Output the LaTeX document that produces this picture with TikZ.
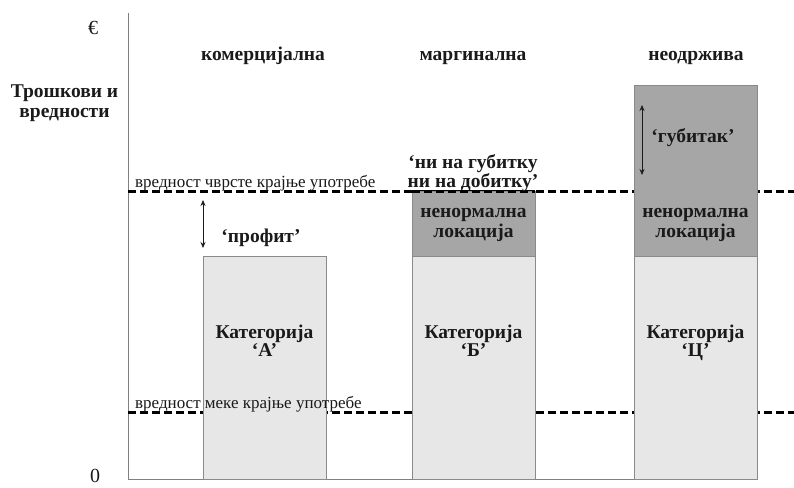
\documentclass[tikz,border=0pt]{standalone}
\usepackage{fontspec}
\setmainfont{Liberation Serif}
\usetikzlibrary{arrows.meta}
\definecolor{lightbox}{HTML}{E7E7E7}
\definecolor{darkbox}{HTML}{A6A6A6}
\definecolor{edgegray}{HTML}{8A8A8A}
\definecolor{inkcol}{HTML}{1A1A1A}
\begin{document}
\begin{tikzpicture}[x=1pt,y=-1pt,
  lbl/.style={font=\fontsize{19.5}{21}\selectfont\bfseries, text=inkcol, anchor=base, inner sep=0pt},
  reg/.style={font=\fontsize{17}{19}\selectfont, text=inkcol, anchor=base west, inner sep=0pt},
  bigreg/.style={font=\fontsize{20}{22}\selectfont, text=inkcol, anchor=base, inner sep=0pt},
  lightbar/.style={draw=edgegray, fill=lightbox, line width=0.8pt},
  darkbar/.style={draw=edgegray, fill=darkbox, line width=0.8pt},
  axisline/.style={draw=gray, line width=1pt},
  levelline/.style={draw=black, line width=3pt, dash pattern=on 8pt off 4pt},
  dimarrow/.style={{Stealth[length=6pt,width=5pt]}-{Stealth[length=6pt,width=5pt]}, line width=0.7pt, draw=inkcol}]
\useasboundingbox (0,0) rectangle (794,487);
\fill[white] (0,0) rectangle (794,487);

% axes
\coordinate (ytop) at (128,13);
\coordinate (origin) at (128,479);
\coordinate (xend) at (757,479);
\draw[axisline] (ytop) -- (origin) -- (xend);

% level lines
\coordinate (hardL) at (128,191);
\coordinate (hardR) at (794,191);
\coordinate (softL) at (128,412);
\coordinate (softR) at (794,412);
\draw[levelline] (hardL) -- (hardR);
\draw[levelline] (softL) -- (softR);

% bars
\draw[lightbar] (203,256) rectangle (326,479);
\draw[lightbar] (412,256) rectangle (535,479);
\draw[darkbar]  (412,191) rectangle (535,256);
\draw[lightbar] (634,256) rectangle (757,479);
\draw[darkbar]  (634,85) rectangle (757,256);
\draw[levelline] (412,191) -- (535,191);

% arrows
\coordinate (profTop) at (203,200);
\coordinate (profBot) at (203,248);
\draw[dimarrow] (profTop) -- (profBot);
\coordinate (lossTop) at (642,105);
\coordinate (lossBot) at (642,175);
\draw[dimarrow] (lossTop) -- (lossBot);

% axis texts
\node[bigreg] (euro) at (93,35) {€};
\node[bigreg] (zero) at (95,482) {0};
\node[lbl] (ylab1) at (64.5,97) {Трошкови и};
\node[lbl] (ylab2) at (64.5,117) {вредности};

% headers
\node[lbl] (hA) at (263,60) {комерцијална};
\node[lbl] (hB) at (473,60) {маргинална};
\node[lbl] (hC) at (696,60) {неодржива};

% level labels
\node[reg] (hardlab) at (135,187) {вредност чврсте крајње употребе};
\node[reg] (softlab) at (135,408) {вредност меке крајње употребе};

% bar texts
\node[lbl] (profit) at (261,242) {‘профит’};
\node[lbl] (be1) at (473,168) {‘ни на губитку};
\node[lbl] (be2) at (473,187) {ни на добитку’};
\node[lbl] (abB1) at (473.5,217) {ненормална};
\node[lbl] (abB2) at (473.5,237) {локација};
\node[lbl] (loss) at (693,142) {‘губитак’};
\node[lbl] (abC1) at (695.5,217) {ненормална};
\node[lbl] (abC2) at (695.5,237) {локација};
\node[lbl] (catA1) at (264.5,338) {Категорија};
\node[lbl] (catA2) at (264.5,356) {‘А’};
\node[lbl] (catB1) at (473.5,338) {Категорија};
\node[lbl] (catB2) at (473.5,356) {‘Б’};
\node[lbl] (catC1) at (695.5,338) {Категорија};
\node[lbl] (catC2) at (695.5,356) {‘Ц’};
\end{tikzpicture}
\end{document}
